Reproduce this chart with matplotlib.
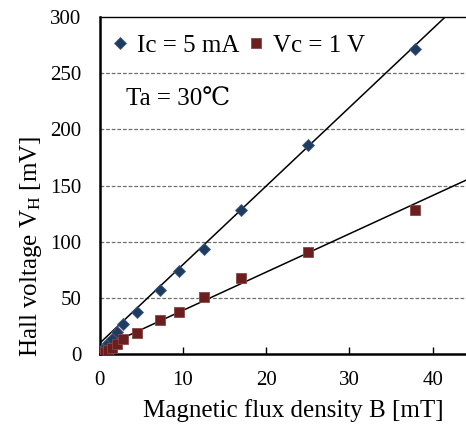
import matplotlib
matplotlib.use('Agg')
import matplotlib.pyplot as plt
import numpy

plt.rcParams['font.family'] = ['Liberation Serif', 'DejaVu Serif']
plt.rcParams['mathtext.default'] = 'regular'

# measured points
flux_density = [0.3, 0.6, 1.0, 1.5, 2.1, 2.8, 4.5, 7.2, 9.5, 12.5, 17.0, 25.0, 37.9]  # mT
hall_ic = [4, 6.5, 9.5, 13, 19.6, 27, 37.4, 57, 73.5, 93.5, 128, 186.5, 271.5]  # mV, Ic = 5 mA
hall_vc = [1, 2, 3.5, 5.5, 9, 13, 19, 30, 37, 50.5, 67.5, 90.5, 128]  # mV, Vc = 1 V

# linear trend lines (slope mV/mT, intercept mV)
fit_ic = [7.0, 9.5]
fit_vc = [3.41, 4.7]

x_max = 44
y_max = 300

fig = plt.figure(figsize=(4.66, 4.25), dpi=100)
ax = fig.add_axes([0.2137, 0.167, 0.7863, 0.793])

line_x = numpy.array([0, x_max])
ax.plot(line_x, fit_ic[0] * line_x + fit_ic[1], color='black', linewidth=1.1, zorder=2)
ax.plot(line_x, fit_vc[0] * line_x + fit_vc[1], color='black', linewidth=1.1, zorder=2)

h_ic, = ax.plot(flux_density, hall_ic, linestyle='none', marker='D', markersize=6,
                markerfacecolor='#1F3B5E', markeredgecolor='#3E5F85', markeredgewidth=0.6,
                label='Ic = 5 mA', zorder=3)
h_vc, = ax.plot(flux_density, hall_vc, linestyle='none', marker='s', markersize=7,
                markerfacecolor='#6A1E1E', markeredgecolor='#8C4646', markeredgewidth=0.6,
                label='Vc = 1 V', zorder=3)

ax.set_xlim(0, x_max)
ax.set_ylim(0, y_max)
ax.set_xticks([0, 10, 20, 30, 40])
ax.set_yticks([0, 50, 100, 150, 200, 250, 300])

for y in [50, 100, 150, 200, 250]:
    ax.axhline(y, color='#707070', linestyle=(0, (3, 1.5)), linewidth=0.9, zorder=1)

ax.spines['right'].set_visible(False)
ax.spines['left'].set_linewidth(1.8)
ax.spines['bottom'].set_linewidth(1.8)
ax.spines['top'].set_linewidth(1.0)

ax.tick_params(axis='x', direction='in', length=5, width=1.0, pad=12, labelsize=15)
ax.tick_params(axis='y', length=0, pad=13, labelsize=15)

fig.text(0.629, 0.035, 'Magnetic flux density B [mT]', ha='center', va='center', fontsize=18)
fig.text(0.0665, 0.421, 'Hall voltage V$_{H}$ [mV]', ha='center', va='center',
         rotation=90, fontsize=18)

ax.legend(handles=[h_ic, h_vc], loc='upper left', bbox_to_anchor=(-0.02, 1.0), ncol=2,
          frameon=False, fontsize=18, handlelength=0.8, handletextpad=0.3,
          columnspacing=0.25, borderaxespad=0.3)

ax.text(0.073, 0.755, 'Ta = 30\u2103', transform=ax.transAxes, fontsize=18,
        ha='left', va='center')

fig.savefig('out.png', dpi=100)
